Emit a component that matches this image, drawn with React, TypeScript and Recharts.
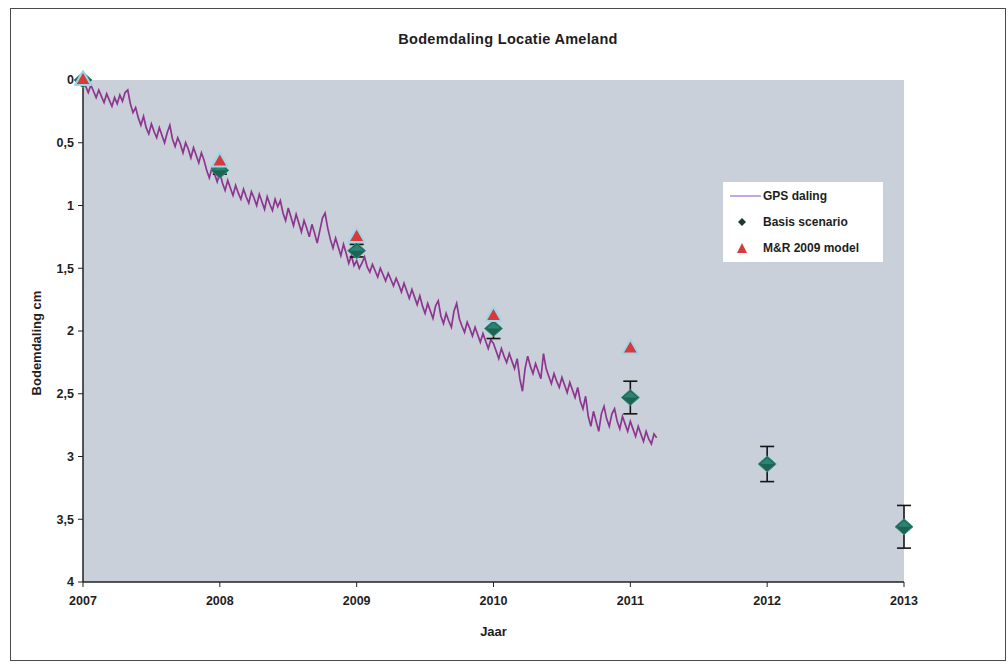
import React from 'react';
import {
  ComposedChart,
  Line,
  Scatter,
  ErrorBar,
  XAxis,
  YAxis,
  CartesianGrid,
  Legend
} from 'recharts';

const FONT = '"Liberation Sans", Arial, sans-serif';
const TEXT = '#1e1e1e';

// jaar-as
const years = [2007, 2008, 2009, 2010, 2011, 2012, 2013];
const depthTicks = [0, 0.5, 1, 1.5, 2, 2.5, 3, 3.5, 4];

// Basis scenario (met foutmarge)
const basisValues = [0, 0.72, 1.36, 1.98, 2.53, 3.06, 3.56];
const basisErrors = [0, 0.03, 0.05, 0.08, 0.13, 0.14, 0.17];

// M&R 2009 model
const modelYears = [2007, 2008, 2009, 2010, 2011];
const modelValues = [0, 0.65, 1.25, 1.88, 2.14];

// GPS daling, wekelijkse waarden vanaf begin 2007
const gpsStart = 2007;
const gpsPerYear = 52;
const gps2007 = [
  0.02, 0.05, 0.10, 0.04, 0.09, 0.14, 0.08, 0.13, 0.18, 0.11, 0.16, 0.21, 0.14,
  0.19, 0.12, 0.17, 0.10, 0.08, 0.19, 0.26, 0.22, 0.30, 0.36, 0.29, 0.38, 0.43,
  0.35, 0.41, 0.46, 0.38, 0.44, 0.50, 0.42, 0.36, 0.47, 0.53, 0.46, 0.51, 0.58,
  0.50, 0.55, 0.62, 0.54, 0.60, 0.66, 0.58, 0.64, 0.72, 0.78, 0.70, 0.75, 0.81
];
const gps2008 = [
  0.74, 0.82, 0.88, 0.80, 0.86, 0.92, 0.84, 0.90, 0.95, 0.87, 0.93, 0.98, 0.89,
  0.94, 1.00, 0.91, 0.97, 1.03, 0.93, 0.99, 1.04, 0.95, 1.01, 0.96, 1.06, 1.12,
  1.02, 1.09, 1.16, 1.07, 1.14, 1.21, 1.12, 1.18, 1.25, 1.15, 1.22, 1.30, 1.20,
  1.10, 1.06, 1.18, 1.27, 1.34, 1.26, 1.33, 1.40, 1.31, 1.38, 1.46, 1.40, 1.48
];
const gps2009 = [
  1.44, 1.50, 1.46, 1.41, 1.49, 1.53, 1.47, 1.52, 1.57, 1.50, 1.55, 1.60, 1.54,
  1.59, 1.64, 1.58, 1.63, 1.69, 1.62, 1.68, 1.74, 1.67, 1.73, 1.79, 1.72, 1.80,
  1.86, 1.78, 1.84, 1.90, 1.80, 1.76, 1.88, 1.94, 1.86, 1.92, 1.97, 1.84, 1.78,
  1.90, 1.96, 2.01, 1.93, 1.98, 2.04, 1.97, 2.03, 2.09, 2.02, 2.08, 2.14, 2.07
];
const gps2010 = [
  2.10, 2.16, 2.22, 2.14, 2.20, 2.25, 2.18, 2.24, 2.30, 2.22, 2.38, 2.48, 2.30,
  2.20, 2.28, 2.34, 2.26, 2.32, 2.38, 2.18, 2.30, 2.36, 2.42, 2.34, 2.40, 2.45,
  2.37, 2.43, 2.49, 2.41, 2.47, 2.53, 2.45, 2.56, 2.62, 2.52, 2.68, 2.76, 2.64,
  2.72, 2.80, 2.66, 2.60, 2.70, 2.76, 2.66, 2.62, 2.72, 2.78, 2.68, 2.74, 2.80
];
const gps2011 = [2.72, 2.78, 2.84, 2.76, 2.82, 2.88, 2.80, 2.86, 2.90, 2.82, 2.85];

const gpsData = [...gps2007, ...gps2008, ...gps2009, ...gps2010, ...gps2011].map((v, i) => ({
  year: gpsStart + i / gpsPerYear,
  gps: v
}));
const basisData = years.map((y, i) => ({ year: y, value: basisValues[i], err: basisErrors[i] }));
const modelData = modelYears.map((y, i) => ({ year: y, value: modelValues[i] }));

const Diamond = (props: any) => {
  const { cx, cy } = props;
  if (cx == null || cy == null) return null;
  return (
    <g>
      <path
        d={`M${cx - 9},${cy} L${cx},${cy - 8} L${cx + 9},${cy} L${cx},${cy + 8} Z`}
        fill="#1d6455"
        stroke="#3c9483"
        strokeWidth={1}
      />
      <path d={`M${cx - 7},${cy} L${cx},${cy - 6} L${cx + 7},${cy} Z`} fill="#2c8273" />
    </g>
  );
};

const Triangle = (props: any) => {
  const { cx, cy } = props;
  if (cx == null || cy == null) return null;
  return (
    <path
      d={`M${cx},${cy - 9} L${cx + 8},${cy + 5} L${cx - 8},${cy + 5} Z`}
      fill="#d8393b"
      stroke="#9fd6e6"
      strokeWidth={2}
      strokeLinejoin="round"
    />
  );
};

const LegendBox = () => {
  const row: React.CSSProperties = {
    display: 'flex',
    alignItems: 'center',
    height: 26,
    whiteSpace: 'nowrap'
  };
  return (
    <div
      style={{
        width: 160,
        height: 80,
        background: '#ffffff',
        fontFamily: FONT,
        fontWeight: 'bold',
        fontSize: 12,
        color: TEXT,
        paddingTop: 1,
        boxSizing: 'border-box'
      }}
    >
      <div style={row}>
        <svg width={40} height={10}>
          <line x1={7} y1={5} x2={38} y2={5} stroke="#b58ad6" strokeWidth={1.5} />
        </svg>
        <span>GPS daling</span>
      </div>
      <div style={row}>
        <svg width={40} height={10}>
          <path d="M19,1 L23,5 L19,9 L15,5 Z" fill="#1b3a33" />
        </svg>
        <span>Basis scenario</span>
      </div>
      <div style={row}>
        <svg width={40} height={12}>
          <path d="M19,1 L24,11 L14,11 Z" fill="#d8393b" />
        </svg>
        <span>M&amp;R 2009 model</span>
      </div>
    </div>
  );
};

const tickStyle = { fill: TEXT, fontSize: 12.5, fontWeight: 'bold', fontFamily: FONT };

export default function App() {
  return (
    <div style={{ position: 'absolute', left: 0, top: 0, width: 1008, height: 665, background: '#fff' }}>
      <div
        style={{
          position: 'absolute',
          left: 10,
          top: 8,
          width: 994,
          height: 651,
          border: '1px solid #4a4a4a'
        }}
      />
      <div
        style={{
          position: 'absolute',
          left: 0,
          top: 31,
          width: 1016,
          textAlign: 'center',
          fontFamily: FONT,
          fontWeight: 'bold',
          fontSize: 14.5,
          color: TEXT,
          letterSpacing: 0.3
        }}
      >
        Bodemdaling Locatie Ameland
      </div>
      <ComposedChart
        width={1008}
        height={665}
        margin={{ top: 80, right: 104, bottom: 53, left: 43 }}
        style={{ position: 'absolute', left: 0, top: 0 }}
      >
        <CartesianGrid fill="#c9d0d9" stroke="none" horizontal={false} vertical={false} />
        <XAxis
          xAxisId="top"
          orientation="top"
          type="number"
          domain={[2007, 2013]}
          height={0}
          tick={false}
          tickLine={false}
          axisLine={{ stroke: '#8a8a8a' }}
        />
        <YAxis
          yAxisId="right"
          orientation="right"
          domain={[0, 4]}
          width={0}
          tick={false}
          tickLine={false}
          axisLine={{ stroke: '#8a8a8a' }}
        />
        <XAxis
          dataKey="year"
          type="number"
          domain={[2007, 2013]}
          ticks={years}
          height={30}
          tickSize={5}
          tickMargin={9}
          tick={tickStyle}
          tickLine={{ stroke: '#222' }}
          axisLine={{ stroke: '#222', strokeWidth: 1.5 }}
          label={{
            value: 'Jaar',
            position: 'bottom',
            offset: 15,
            fill: TEXT,
            fontSize: 13,
            fontWeight: 'bold',
            fontFamily: FONT
          }}
        />
        <YAxis
          type="number"
          reversed
          domain={[0, 4]}
          ticks={depthTicks}
          width={40}
          tickSize={5}
          tickMargin={4}
          tick={tickStyle}
          tickFormatter={(v: number) => String(v).replace('.', ',')}
          tickLine={{ stroke: '#222' }}
          axisLine={{ stroke: '#222', strokeWidth: 1.5 }}
          label={{
            content: (p: any) => {
              const vb = p && p.viewBox ? p.viewBox : { x: 43, y: 80, height: 502 };
              const x = vb.x - 7;
              const y = vb.y + vb.height / 2 + 12;
              return (
                <text
                  x={x}
                  y={y}
                  transform={`rotate(-90 ${x} ${y})`}
                  textAnchor="middle"
                  dominantBaseline="central"
                  fill={TEXT}
                  fontSize={13}
                  fontWeight="bold"
                  fontFamily={FONT}
                >
                  Bodemdaling cm
                </text>
              );
            }
          }}
        />
        <Legend
          layout="vertical"
          align="center"
          verticalAlign="middle"
          content={() => <LegendBox />}
          wrapperStyle={{ left: 723, top: 182, width: 160, height: 80 }}
        />
        <Line
          data={gpsData}
          dataKey="gps"
          name="GPS daling"
          type="linear"
          stroke="#8e3590"
          strokeWidth={1.7}
          dot={false}
          activeDot={false}
          isAnimationActive={false}
        />
        <Scatter
          data={basisData}
          dataKey="value"
          name="Basis scenario"
          shape={Diamond}
          isAnimationActive={false}
        >
          <ErrorBar dataKey="err" direction="y" width={7} stroke="#151515" strokeWidth={1.6} />
        </Scatter>
        <Scatter
          data={modelData}
          dataKey="value"
          name="M&R 2009 model"
          shape={Triangle}
          isAnimationActive={false}
        />
      </ComposedChart>
    </div>
  );
}
